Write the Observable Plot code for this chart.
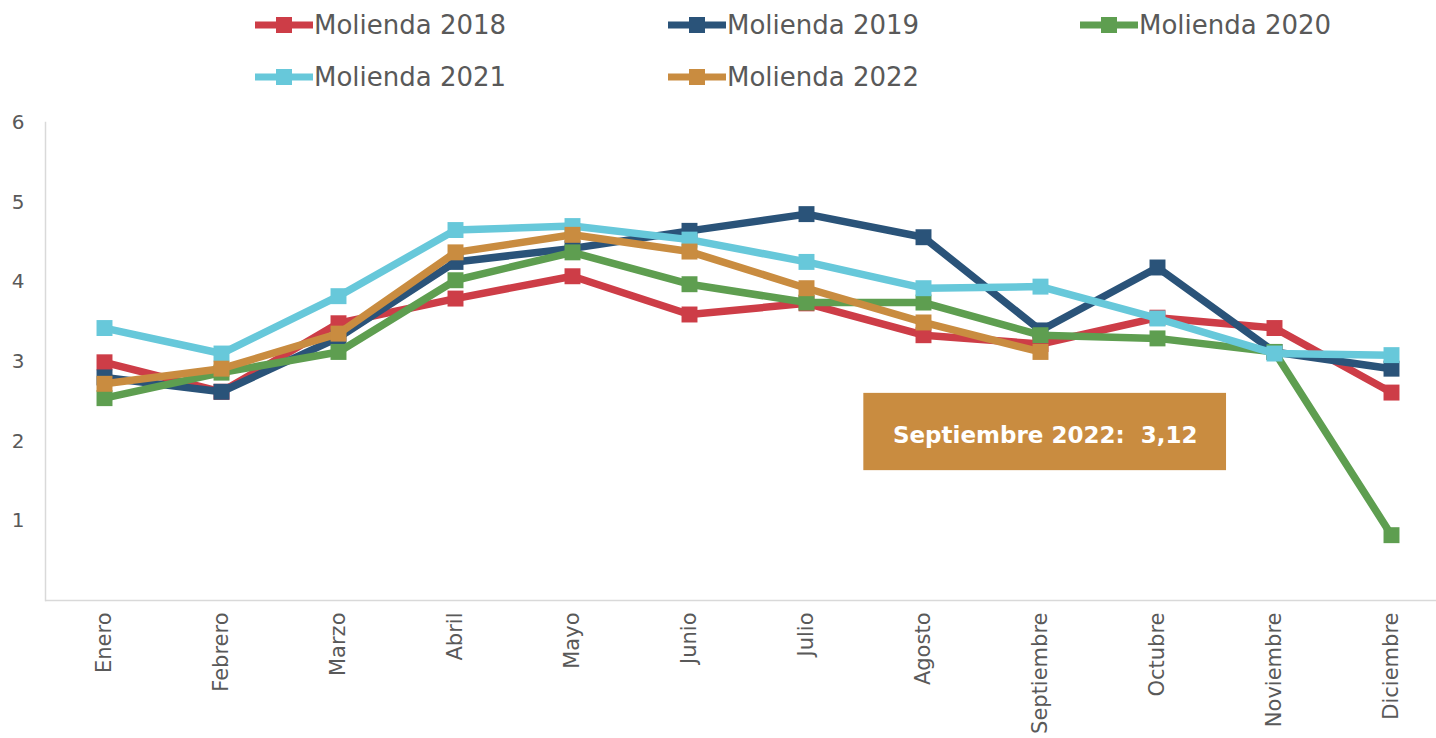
<!DOCTYPE html>
<html>
<head>
<meta charset="utf-8">
<script src="https://cdn.jsdelivr.net/npm/d3@7"></script>
<script src="https://cdn.jsdelivr.net/npm/@observablehq/plot@0.6"></script>
<style>
  html, body { margin: 0; padding: 0; background: #fff; }
  #wrap { position: relative; width: 1436px; height: 738px; font-family: "DejaVu Sans", Verdana, sans-serif; }
  #legend { position: relative; width: 1436px; height: 100px; }
  .item { position: absolute; display: flex; align-items: center; font-size: 26px; color: #595959; white-space: nowrap; }
  .item svg { display: block; margin-right: 1px; }
</style>
</head>
<body>
<div id="wrap">
  <div id="legend"></div>
  <div id="chart"></div>
</div>
<script>
const months = ["Enero", "Febrero", "Marzo", "Abril", "Mayo", "Junio", "Julio", "Agosto", "Septiembre", "Octubre", "Noviembre", "Diciembre"];
const seriesNames = ["Molienda 2018", "Molienda 2019", "Molienda 2020", "Molienda 2021", "Molienda 2022"];
const seriesColors = ["#CD3D47", "#2A5379", "#5E9E50", "#67C8DA", "#C98C40"];
const molienda2018 = [2.99, 2.62, 3.48, 3.79, 4.07, 3.59, 3.73, 3.33, 3.22, 3.55, 3.42, 2.61];
const molienda2019 = [2.80, 2.62, 3.30, 4.25, 4.42, 4.64, 4.85, 4.56, 3.39, 4.18, 3.12, 2.91];
const molienda2020 = [2.54, 2.86, 3.12, 4.02, 4.37, 3.97, 3.74, 3.74, 3.33, 3.29, 3.12, 0.82];
const molienda2021 = [3.42, 3.10, 3.82, 4.65, 4.70, 4.53, 4.25, 3.92, 3.94, 3.54, 3.10, 3.08];
const molienda2022 = [2.72, 2.91, 3.35, 4.37, 4.59, 4.38, 3.92, 3.49, 3.12];
const yTicks = [1, 2, 3, 4, 5, 6];
const annotationText = ["Septiembre 2022:\u00a0 3,12"];
const annotationBox = [{x1: 6.49, x2: 9.59, y1: 1.63, y2: 2.60, xc: 8.04, yc: 2.07}];

const allValues = [molienda2018, molienda2019, molienda2020, molienda2021, molienda2022];

// Legend
const legendPos = [[255, 7], [668, 7], [1080, 7], [255, 59], [668, 59]];
const legend = document.getElementById("legend");
seriesNames.forEach((name, k) => {
  const div = document.createElement("div");
  div.className = "item";
  div.style.left = legendPos[k][0] + "px";
  div.style.top = legendPos[k][1] + "px";
  div.innerHTML = `<svg width="58" height="36"><line x1="0" x2="58" y1="18" y2="18" stroke="${seriesColors[k]}" stroke-width="7"/><rect x="21" y="10" width="16" height="16" fill="${seriesColors[k]}"/></svg><span>${name}</span>`;
  legend.appendChild(div);
});

const rows = [];
allValues.forEach((vals, k) => vals.forEach((v, i) => rows.push({serie: seriesNames[k], i, v, k})));

const seriesMarks = [];
seriesNames.forEach((name, k) => {
  const d = rows.filter(r => r.k === k);
  seriesMarks.push(Plot.line(d, {x: "i", y: "v", stroke: seriesColors[k], strokeWidth: 7.5, strokeLinejoin: "round"}));
  seriesMarks.push(Plot.dot(d, {x: "i", y: "v", symbol: "square", r: 9, fill: seriesColors[k], stroke: "none"}));
});

const chart = Plot.plot({
  width: 1436,
  height: 638,
  marginTop: 22,
  marginBottom: 138,
  marginLeft: 45,
  marginRight: 0,
  style: {fontFamily: "DejaVu Sans, Verdana, sans-serif", color: "#595959", background: "#fff"},
  x: {domain: [0, 11], range: [104, 1391]},
  y: {domain: [0, 6]},
  marks: [
    Plot.ruleY([0], {stroke: "#d9d9d9", strokeWidth: 1.5}),
    Plot.frame({anchor: "left", stroke: "#d9d9d9", strokeWidth: 1.5}),
    Plot.axisY({ticks: yTicks, tickFormat: d => String(d), tickSize: 0, tickPadding: 21, fontSize: 20, fill: "#595959", label: null}),
    Plot.axisX({ticks: d3.range(12), tickFormat: i => months[i], tickRotate: -90, tickSize: 0, tickPadding: 12, fontSize: 21, fill: "#595959", label: null}),
    ...seriesMarks,
    Plot.rect(annotationBox, {x1: "x1", x2: "x2", y1: "y1", y2: "y2", fill: "#C98C40"}),
    Plot.text(annotationBox, {x: "xc", y: "yc", text: () => annotationText[0], fill: "#fff", fontSize: 23, fontWeight: "bold"})
  ]
});
document.getElementById("chart").appendChild(chart);
</script>
</body>
</html>
